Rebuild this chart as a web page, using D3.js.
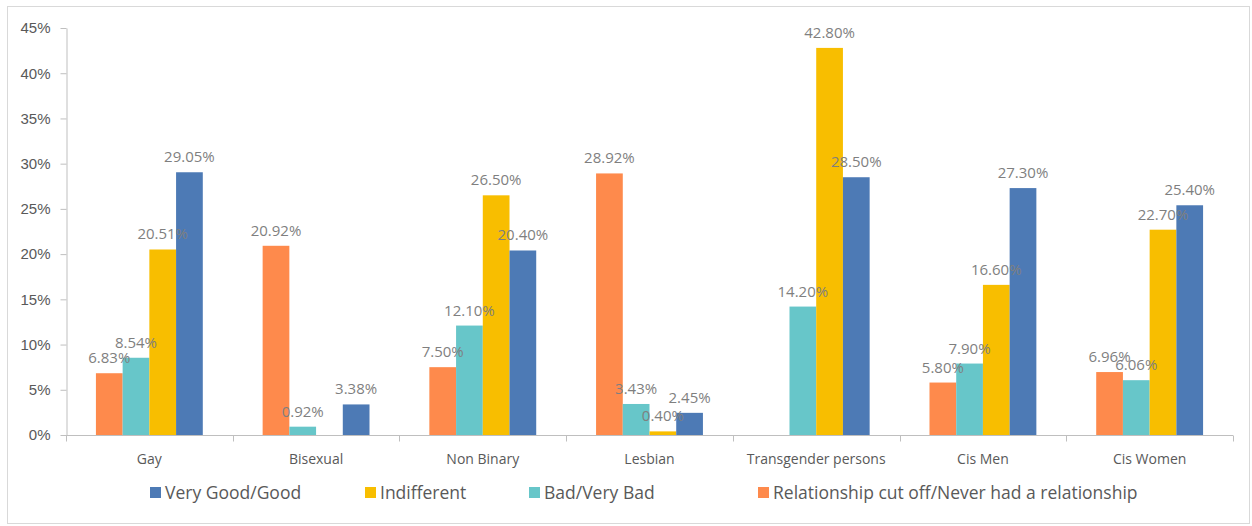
<!DOCTYPE html>
<html><head><meta charset="utf-8">
<script src="https://cdn.jsdelivr.net/npm/d3@7"></script>
<style>
html,body{margin:0;padding:0;background:#fff;}
svg{display:block;font-family:"Open Sans",sans-serif;}
</style></head>
<body><svg id="c" width="1252" height="526"></svg>
<script>
const categories = ["Gay","Bisexual","Non Binary","Lesbian","Transgender persons","Cis Men","Cis Women"];
const seriesNames = ["Relationship cut off/Never had a relationship","Bad/Very Bad","Indifferent","Very Good/Good"];
const relationshipCutOff = [6.83, 20.92, 7.50, 28.92, null, 5.80, 6.96];
const badVeryBad = [8.54, 0.92, 12.10, 3.43, 14.20, 7.90, 6.06];
const indifferent = [20.51, null, 26.50, 0.40, 42.80, 16.60, 22.70];
const veryGoodGood = [29.05, 3.38, 20.40, 2.45, 28.50, 27.30, 25.40];
const seriesValues = [relationshipCutOff, badVeryBad, indifferent, veryGoodGood];
const seriesColors = ["#fe8a4c","#67c6c9","#f8be00","#4d7ab5"];
const legendOrder = [3,2,1,0];
const yTicks = [0,5,10,15,20,25,30,35,40,45];

const svg = d3.select("#c");
// outer border
svg.append("rect").attr("x",7.5).attr("y",6.5).attr("width",1242).attr("height",517)
  .attr("fill","none").attr("stroke","#d9d9d9").attr("stroke-width",1);

const x0 = d3.scaleBand().domain(categories).range([66,1233]).paddingInner(0).paddingOuter(0);
const x1 = d3.scaleBand().domain(d3.range(seriesNames.length)).range([0,x0.bandwidth()]).paddingInner(0).paddingOuter(1.12);
const y = d3.scaleLinear().domain([0,45]).range([435,28]);

// y axis
const yAxis = d3.axisLeft(y).tickValues(yTicks).tickFormat(d=>d+"%").tickSize(6).tickSizeOuter(0);
const gy = svg.append("g").attr("transform","translate(66.5,0)").call(yAxis);
gy.select(".domain").attr("stroke","#bfbfbf");
gy.selectAll(".tick line").attr("stroke","#bfbfbf");
gy.selectAll(".tick text").attr("fill","#595959").attr("font-size","15px").attr("x",-16);

// x axis
const gx = svg.append("g").attr("transform","translate(0,435.5)");
gx.append("line").attr("x1",66).attr("x2",1233).attr("stroke","#bfbfbf");
const bounds = categories.map(c=>x0(c)).concat([x0(categories[categories.length-1])+x0.bandwidth()]);
gx.selectAll("line.tk").data(bounds).join("line").attr("class","tk")
  .attr("x1",d=>Math.round(d)+0.5).attr("x2",d=>Math.round(d)+0.5).attr("y1",0).attr("y2",6).attr("stroke","#bfbfbf");
gx.selectAll("text").data(categories).join("text")
  .attr("x",d=>x0(d)+x0.bandwidth()/2).attr("y",28).attr("text-anchor","middle")
  .attr("fill","#595959").attr("font-size","14px").text(d=>d);

// bars
const flat = [];
categories.forEach((c,i)=>seriesValues.forEach((s,j)=>{ if(s[i]!=null) flat.push({c,j,v:s[i]}); }));
const bars = svg.append("g");
bars.selectAll("rect").data(flat).join("rect")
  .attr("x",d=>x0(d.c)+x1(d.j)).attr("width",x1.bandwidth())
  .attr("y",d=>y(d.v)).attr("height",d=>y(0)-y(d.v))
  .attr("fill",d=>seriesColors[d.j]);
bars.selectAll("text").data(flat).join("text")
  .attr("x",d=>x0(d.c)+x1(d.j)+x1.bandwidth()/2).attr("y",d=>y(d.v)-10)
  .attr("text-anchor","middle").attr("fill","#7f7f7f").attr("font-size","15px")
  .text(d=>d.v.toFixed(2)+"%");

// legend
const legendX = [150,365,529,758];
const lg = svg.append("g");
legendOrder.forEach((si,k)=>{
  lg.append("rect").attr("x",legendX[k]).attr("y",487).attr("width",11).attr("height",11).attr("fill",seriesColors[si]);
  lg.append("text").attr("x",legendX[k]+15).attr("y",499).attr("fill","#595959").attr("font-size","17.5px").text(seriesNames[si]);
});
</script></body></html>
